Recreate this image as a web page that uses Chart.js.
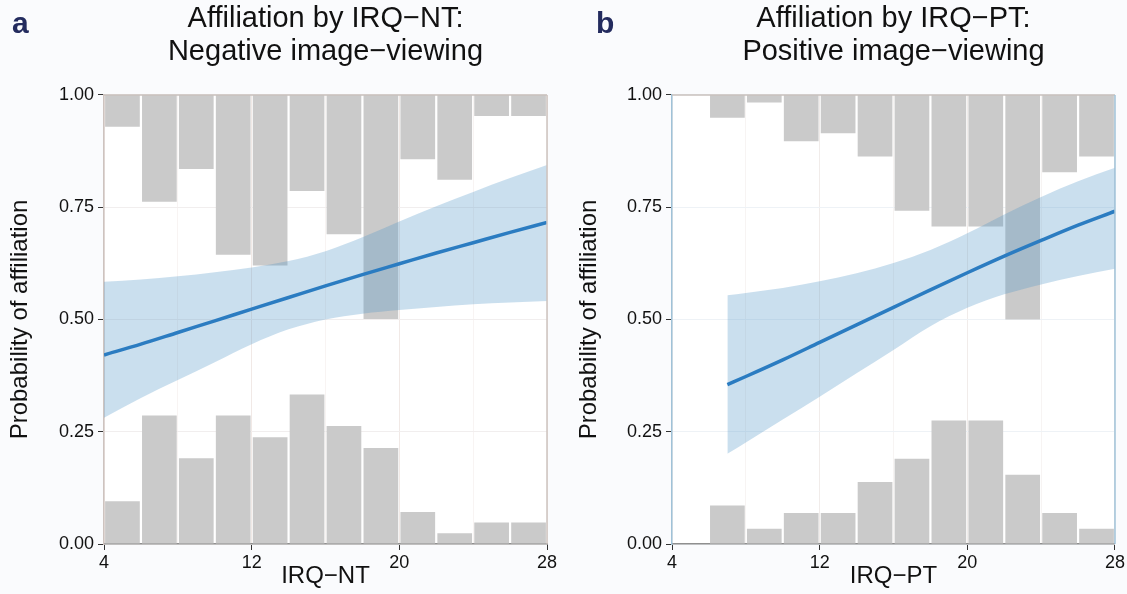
<!DOCTYPE html>
<html>
<head>
<meta charset="utf-8">
<script src="https://cdn.jsdelivr.net/npm/chart.js@4.4.1/dist/chart.umd.min.js"></script>
<style>
body { margin: 0; background: #fafbfd; }
#panelA { position: absolute; left: 0; top: 0; width: 563px; height: 594px; }
#panelB { position: absolute; left: 563px; top: 0; width: 564px; height: 594px; }
</style>
</head>
<body>
<div id="panelA"><canvas id="graficoA"></canvas></div>
<div id="panelB"><canvas id="graficoB"></canvas></div>
<script>
// centros de los intervalos del histograma (ancho 2)
const centrosBins = [5, 7, 9, 11, 13, 15, 17, 19, 21, 23, 25, 27];
const ticksX = [4, 12, 20, 28];
const ticksY = [0, 0.25, 0.5, 0.75, 1];

// Panel a: IRQ-NT
const ntArriba = [0.929, 0.762, 0.835, 0.644, 0.62, 0.786, 0.69, 0.501, 0.857, 0.811, 0.953, 0.953];
const ntAbajo = [0.095, 0.286, 0.191, 0.286, 0.238, 0.333, 0.263, 0.214, 0.071, 0.024, 0.048, 0.048];
const ntCurvaX = [4, 6, 8, 10, 12, 14, 16, 18, 20, 22, 24, 26, 28];
const ntCurva = [0.421, 0.445, 0.471, 0.497, 0.523, 0.549, 0.575, 0.600, 0.624, 0.648, 0.671, 0.694, 0.716];
const ntSuperior = [0.584, 0.589, 0.596, 0.605, 0.616, 0.630, 0.652, 0.683, 0.718, 0.752, 0.784, 0.815, 0.844];
const ntInferior = [0.281, 0.325, 0.365, 0.405, 0.445, 0.478, 0.500, 0.513, 0.521, 0.528, 0.534, 0.538, 0.541];

// Panel b: IRQ-PT
const ptArriba = [null, 0.949, 0.983, 0.897, 0.915, 0.863, 0.742, 0.707, 0.707, 0.5, 0.828, 0.863];
const ptAbajo = [null, 0.086, 0.034, 0.069, 0.069, 0.138, 0.19, 0.275, 0.275, 0.154, 0.069, 0.034];
const ptCurvaX = [7, 8, 10, 12, 14, 16, 18, 20, 22, 24, 26, 28];
const ptCurva = [0.355, 0.373, 0.410, 0.449, 0.488, 0.527, 0.566, 0.604, 0.641, 0.676, 0.710, 0.741];
const ptSuperior = [0.554, 0.559, 0.570, 0.585, 0.603, 0.626, 0.655, 0.692, 0.734, 0.773, 0.808, 0.838];
const ptInferior = [0.201, 0.226, 0.277, 0.328, 0.380, 0.432, 0.485, 0.526, 0.556, 0.578, 0.597, 0.613];

const fuente = "'Liberation Sans', Arial, sans-serif";
Chart.defaults.font.family = fuente;
Chart.defaults.color = "#1a1a1a";

const marcoPlugin = {
    id: "marco",
    beforeDraw(chart, args, opts) {
        const { ctx, chartArea: a } = chart;
        ctx.save();
        ctx.fillStyle = "#ffffff";
        ctx.fillRect(a.left, a.top, a.right - a.left, a.bottom - a.top);
        ctx.restore();
    },
    afterDatasetsDraw(chart, args, opts) {
        const { ctx, chartArea: a } = chart;
        ctx.save();
        ctx.lineWidth = 1.5;
        ctx.strokeStyle = opts.arriba;
        ctx.beginPath();
        ctx.moveTo(a.left, a.top);
        ctx.lineTo(a.right, a.top);
        ctx.stroke();
        ctx.strokeStyle = opts.lados;
        ctx.beginPath();
        ctx.moveTo(a.right, a.top);
        ctx.lineTo(a.right, a.bottom);
        ctx.stroke();
        ctx.restore();
    },
    afterDraw(chart, args, opts) {
        const { ctx } = chart;
        ctx.save();
        ctx.fillStyle = "#232b5e";
        ctx.font = "bold 30px " + fuente;
        ctx.textBaseline = "alphabetic";
        ctx.fillText(opts.letra, opts.letraX, 33);
        ctx.restore();
    }
};

function dibujarPanel(idCanvas, opciones) {
    const contexto = document.getElementById(idCanvas).getContext("2d");
    const esMayor = v => ticksX.includes(v);

    return new Chart(contexto, {
        type: "bar",
        data: {
            datasets: [
                {
                    type: "line",
                    data: opciones.curvaX.map((x, i) => ({ x, y: opciones.curva[i] })),
                    borderColor: "#2b7cc1",
                    borderWidth: 3.5,
                    pointRadius: 0,
                    cubicInterpolationMode: "monotone",
                    fill: false,
                    order: 1
                },
                {
                    type: "line",
                    data: opciones.curvaX.map((x, i) => ({ x, y: opciones.superior[i] })),
                    borderWidth: 0,
                    borderColor: "rgba(0,0,0,0)",
                    backgroundColor: "rgba(80,150,200,0.3)",
                    pointRadius: 0,
                    cubicInterpolationMode: "monotone",
                    fill: "+1",
                    order: 2
                },
                {
                    type: "line",
                    data: opciones.curvaX.map((x, i) => ({ x, y: opciones.inferior[i] })),
                    borderWidth: 0,
                    borderColor: "rgba(0,0,0,0)",
                    pointRadius: 0,
                    cubicInterpolationMode: "monotone",
                    fill: false,
                    order: 2
                },
                {
                    data: centrosBins.map((x, i) => ({ x, y: opciones.arriba[i] === null ? null : [opciones.arriba[i], 1] })),
                    backgroundColor: "#cacaca",
                    grouped: false,
                    barPercentage: 0.94,
                    categoryPercentage: 1,
                    order: 3
                },
                {
                    data: centrosBins.map((x, i) => ({ x, y: opciones.abajo[i] === null ? null : [0, opciones.abajo[i]] })),
                    backgroundColor: "#cacaca",
                    grouped: false,
                    barPercentage: 0.94,
                    categoryPercentage: 1,
                    order: 3
                }
            ]
        },
        options: {
            responsive: true,
            maintainAspectRatio: false,
            animation: false,
            layout: { padding: { top: 0, right: opciones.derecha, left: 0, bottom: 0 } },
            plugins: {
                legend: { display: false },
                tooltip: { enabled: false },
                title: {
                    display: true,
                    fullSize: false,
                    text: opciones.titulo,
                    color: "#111",
                    font: { size: 29, weight: "normal", lineHeight: 1.12 },
                    padding: { top: 3, bottom: 27 }
                },
                marco: opciones.marco
            },
            scales: {
                x: {
                    type: "linear",
                    min: 4,
                    max: 28,
                    offset: false,
                    afterFit: s => { s.height = 50; },
                    ticks: {
                        stepSize: 4,
                        autoSkip: false,
                        maxRotation: 0,
                        padding: 2,
                        color: "#111",
                        font: { size: 18 },
                        callback: v => (esMayor(v) ? String(v) : "")
                    },
                    grid: {
                        offset: false,
                        tickLength: 6,
                        lineWidth: 1,
                        color: c => (esMayor(c.tick.value) ? opciones.rejilla : opciones.rejillaMenor),
                        tickColor: c => (esMayor(c.tick.value) ? "#333" : "rgba(0,0,0,0)")
                    },
                    border: { color: "#8f8f8f", width: 1.5 },
                    title: {
                        display: true,
                        text: opciones.tituloX,
                        color: "#111",
                        font: { size: 24 },
                        padding: { top: 0, bottom: 3 }
                    }
                },
                y: {
                    min: 0,
                    max: 1,
                    afterFit: s => { s.width = opciones.anchoY; },
                    afterBuildTicks: s => { s.ticks = ticksY.map(v => ({ value: v })); },
                    ticks: {
                        padding: 4,
                        color: "#111",
                        font: { size: 18 },
                        callback: v => v.toFixed(2)
                    },
                    grid: {
                        tickLength: 6,
                        color: opciones.rejillaY,
                        tickColor: "#333"
                    },
                    border: { color: opciones.marco.lados, width: 1.5 },
                    title: {
                        display: true,
                        text: "Probability of affiliation",
                        color: "#111",
                        font: { size: 24 },
                        padding: { top: opciones.margenTituloY, bottom: 0 }
                    }
                }
            }
        },
        plugins: [marcoPlugin]
    });
}

dibujarPanel("graficoA", {
    titulo: ["Affiliation by IRQ\u2212NT:", "Negative image\u2212viewing"],
    tituloX: "IRQ\u2212NT",
    arriba: ntArriba,
    abajo: ntAbajo,
    curvaX: ntCurvaX,
    curva: ntCurva,
    superior: ntSuperior,
    inferior: ntInferior,
    anchoY: 104,
    derecha: 16,
    margenTituloY: 6,
    rejilla: "#f1e9e6",
    rejillaMenor: "#f8f4f3",
    rejillaY: "#f1eeee",
    marco: { letra: "a", letraX: 12, arriba: "#c9c1bd", lados: "#cdc3bf" }
});

dibujarPanel("graficoB", {
    titulo: ["Affiliation by IRQ\u2212PT:", "Positive image\u2212viewing"],
    tituloX: "IRQ\u2212PT",
    arriba: ptArriba,
    abajo: ptAbajo,
    curvaX: ptCurvaX,
    curva: ptCurva,
    superior: ptSuperior,
    inferior: ptInferior,
    anchoY: 109,
    derecha: 11,
    margenTituloY: 12,
    rejilla: "#f1ecea",
    rejillaMenor: "#f7f4f3",
    rejillaY: "#eef2f6",
    marco: { letra: "b", letraX: 33, arriba: "#c9c1bd", lados: "#9fc2d8" }
});
</script>
</body>
</html>
